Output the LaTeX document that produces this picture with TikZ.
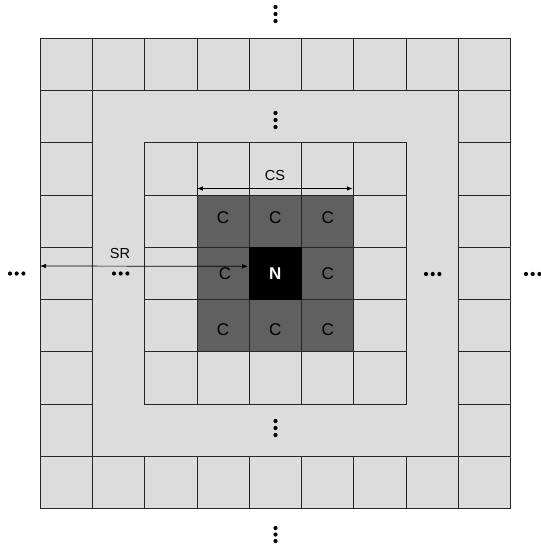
\documentclass[tikz,border=0pt]{standalone}
\usepackage{fontspec}
\setmainfont{Liberation Sans}
\usetikzlibrary{arrows.meta,calc}
\definecolor{lightcell}{HTML}{DCDCDC}
\definecolor{darkcell}{HTML}{606060}
\begin{document}
\begin{tikzpicture}[x=1pt,y=-1pt,
  gridline/.style={draw=black!85,line width=0.75pt},
  lightbox/.style={gridline,fill=lightcell},
  darkbox/.style={gridline,fill=darkcell},
  ctext/.style={font=\fontsize{17}{20}\selectfont,text=black,inner sep=0pt},
  lbl/.style={font=\fontsize{14.5}{17}\selectfont,text=black,inner sep=0pt},
  dot/.style={fill=black},
  dimarrow/.style={{Latex[length=6pt,width=4.5pt]}-{Latex[length=6pt,width=4.5pt]},line width=0.7pt,black}]
\useasboundingbox (0,0) rectangle (541,544);
\fill[white] (0,0) rectangle (541,544);
\def\ox{40}\def\oy{38}\def\cs{52.3}
% outer ring cells
\foreach \i in {0,...,8}{
  \foreach \j in {0,8}{
    \draw[lightbox] ({\ox+\i*\cs},{\oy+\j*\cs}) rectangle ++(\cs,\cs);
  }
}
\foreach \i in {0,8}{
  \foreach \j in {1,...,7}{
    \draw[lightbox] ({\ox+\i*\cs},{\oy+\j*\cs}) rectangle ++(\cs,\cs);
  }
}
% band (second ring)
\draw[lightbox] ({\ox+1*\cs},{\oy+1*\cs}) rectangle ({\ox+8*\cs},{\oy+8*\cs});
% inner 5x5 cells
\foreach \i in {2,...,6}{
  \foreach \j in {2,...,6}{
    \draw[lightbox] ({\ox+\i*\cs},{\oy+\j*\cs}) rectangle ++(\cs,\cs);
  }
}
% dark 3x3
\foreach \i in {3,...,5}{
  \foreach \j in {3,...,5}{
    \draw[darkbox] ({\ox+\i*\cs},{\oy+\j*\cs}) rectangle ++(\cs,\cs);
  }
}
% center N cell
\node[draw=black,fill=black,minimum size=52.3pt,inner sep=0pt,
      font=\fontsize{17}{20}\selectfont\bfseries,text=white] (n)
  at ({\ox+4.5*\cs},{\oy+4.5*\cs}) {N};
% C labels
\node[ctext] (c1) at ({\ox+3.5*\cs},{\oy+3.5*\cs-3}) {C};
\node[ctext] (c2) at ({\ox+4.5*\cs},{\oy+3.5*\cs-3}) {C};
\node[ctext] (c3) at ({\ox+5.5*\cs},{\oy+3.5*\cs-3}) {C};
\node[ctext] (c4) at ({\ox+3.5*\cs+2},{\oy+4.5*\cs}) {C};
\node[ctext] (c5) at ({\ox+5.5*\cs},{\oy+4.5*\cs}) {C};
\node[ctext] (c6) at ({\ox+3.5*\cs},{\oy+5.5*\cs+3.5}) {C};
\node[ctext] (c7) at ({\ox+4.5*\cs},{\oy+5.5*\cs+3.5}) {C};
\node[ctext] (c8) at ({\ox+5.5*\cs},{\oy+5.5*\cs+3.5}) {C};
% dimension arrows
\coordinate (srL) at (\ox,266);
\coordinate (srR) at ($(n.west)+(-1,-7)$);
\draw[dimarrow] (srL) -- (srR);
\node[lbl] (sr) at (120,254) {SR};
\coordinate (csL) at ({\ox+3*\cs},188.5);
\coordinate (csR) at ({\ox+6*\cs-1},188.5);
\draw[dimarrow] (csL) -- (csR);
\node[lbl] (cslabel) at (275,176) {CS};
% vertical dots
\foreach \y in {7,14,21}{ \fill[dot] (275.5,\y) circle (2.1); }
\foreach \y in {113,120,127}{ \fill[dot] (275.5,\y) circle (2.1); }
\foreach \y in {421,428,435}{ \fill[dot] (275.5,\y) circle (2.1); }
\foreach \y in {528,534.5,541}{ \fill[dot] (275.5,\y) circle (2.1); }
% horizontal dots
\foreach \x in {10,16.7,23.4}{ \fill[dot] (\x,273.5) circle (2.1); }
\foreach \x in {114,120.7,127.4}{ \fill[dot] (\x,273.5) circle (2.1); }
\foreach \x in {426,432.7,439.4}{ \fill[dot] (\x,274) circle (2.1); }
\foreach \x in {526,532.7,539.4}{ \fill[dot] (\x,274) circle (2.1); }
\end{tikzpicture}
\end{document}
